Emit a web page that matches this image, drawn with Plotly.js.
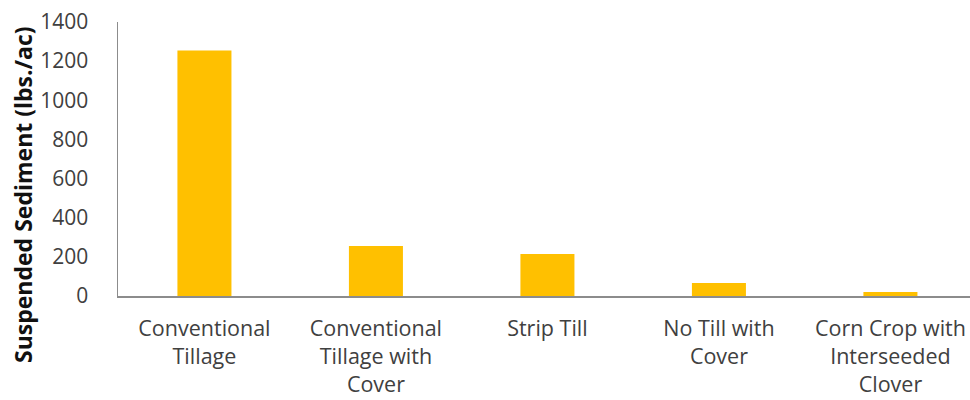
<!DOCTYPE html>
<html><head><meta charset="utf-8">
<script src="https://cdn.plot.ly/plotly-3.0.1.min.js"></script>
<style>html,body{margin:0;padding:0;background:#fff}#chart{width:970px;height:400px}</style>
</head><body><div id="chart"></div>
<script>
var categories = ["Conventional<br>Tillage", "Conventional<br>Tillage with<br>Cover", "Strip Till", "No Till with<br>Cover", "Corn Crop with<br>Interseeded<br>Clover"];
var values = [1255, 255, 215, 67, 20];
var yTicks = [0, 200, 400, 600, 800, 1000, 1200, 1400];
var yTitle = 'Suspended Sediment (lbs./ac)';

var trace = {type: 'bar', x: categories, y: values, marker: {color: '#FFC000'}, hoverinfo: 'x+y'};
var xfont = {family: 'Open Sans, sans-serif', size: 21.5, color: '#404040'};
var yfont = {family: 'Open Sans, sans-serif', size: 21, color: '#404040'};
var layout = {
  width: 970, height: 400,
  margin: {l: 118, r: 0, t: 22, b: 104, pad: 0},
  paper_bgcolor: '#fff', plot_bgcolor: '#fff',
  bargap: 0.685,
  font: xfont,
  showlegend: false,
  xaxis: {range: [-0.504, 4.464], showline: true, linecolor: '#8c8c8c', linewidth: 2, showgrid: false, ticks: '', tickfont: xfont, zeroline: false, ticklabelstandoff: 12},
  yaxis: {range: [0, 1400], tickvals: yTicks, ticktext: yTicks.map(String), showline: true, linecolor: '#8c8c8c', linewidth: 1.5, showgrid: false, zeroline: false, ticks: '', ticklabelstandoff: 24, tickfont: yfont},
  annotations: [{
    text: yTitle, textangle: -90, showarrow: false,
    xref: 'paper', yref: 'paper', x: -0.1115, y: 0.3686, xanchor: 'center', yanchor: 'middle',
    font: {family: 'Open Sans, sans-serif', size: 23, color: '#111', weight: 'bold'}
  }]
};
Plotly.newPlot('chart', [trace], layout, {displayModeBar: false, staticPlot: true});
</script></body></html>
